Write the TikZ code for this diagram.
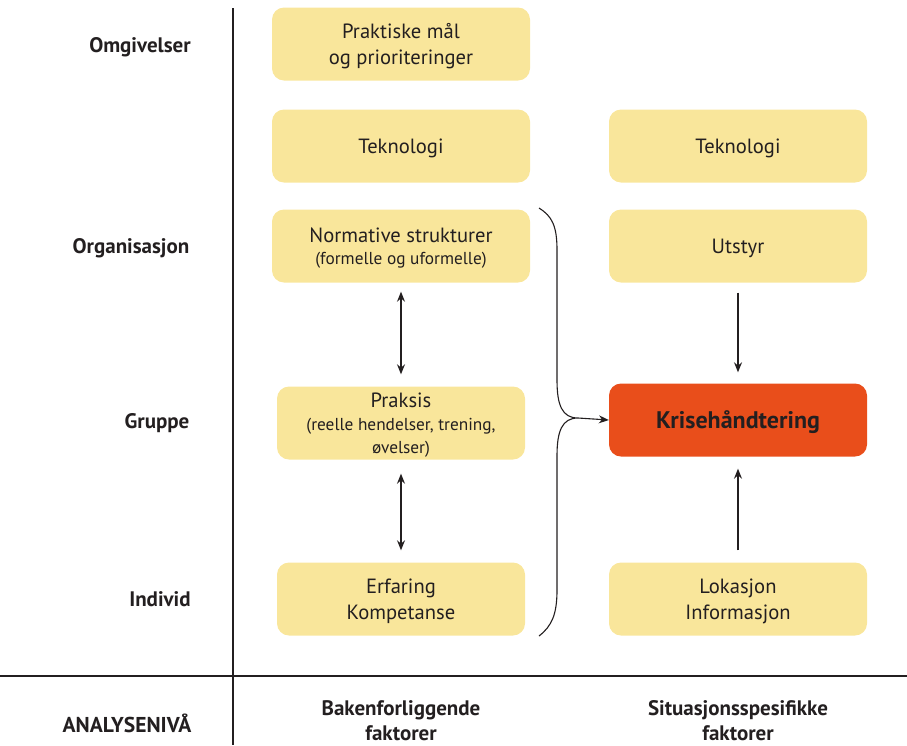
\documentclass[tikz,border=0pt]{standalone}
\usepackage{fontspec}
\setmainfont{PT Sans}
\usetikzlibrary{arrows.meta}
\definecolor{boxyellow}{HTML}{F9E69B}
\definecolor{boxorange}{HTML}{E94E1B}
\definecolor{txt}{HTML}{231F20}
\newcommand{\subtxt}{\fontsize{17.3}{21}\selectfont}
\tikzset{
  factor/.style={rounded corners=12pt, fill=boxyellow, minimum width=258pt, minimum height=73pt, align=center, text=txt, font=\fontsize{20.6}{25.5}\selectfont, inner sep=0pt, text depth=-1pt},
  factorn/.style={factor, minimum width=248pt},
  crisis/.style={factor, fill=boxorange, font=\fontsize{24}{25}\selectfont\bfseries},
  level/.style={font=\fontsize{21}{25}\selectfont\bfseries, text=txt, align=center},
  colhead/.style={font=\fontsize{21}{25}\selectfont\bfseries, text=txt, align=center},
  axis/.style={line width=1.1pt, draw=txt},
  conn/.style={line width=1.1pt, draw=txt, -{Stealth[length=10pt,width=8pt]}},
  dconn/.style={line width=1.1pt, draw=txt, {Stealth[length=10pt,width=8pt]}-{Stealth[length=10pt,width=8pt]}}
}
\begin{document}
\begin{tikzpicture}[x=1pt,y=-1pt]
\useasboundingbox (0,0) rectangle (907,745);
% axes
\coordinate (vtop) at (233,8);
\coordinate (vbot) at (233,745);
\coordinate (hl) at (0,676);
\coordinate (hr) at (907,676);
\draw[axis] (vtop) -- (vbot);
\draw[axis] (hl) -- (hr);
% level labels
\node[level] (lomg) at (140,47) {Omgivelser};
\node[level] (lorg) at (131,248) {Organisasjon};
\node[level] (lgrp) at (157,423) {Gruppe};
\node[level] (lind) at (160,599) {Individ};
\node[level, font=\fontsize{21.5}{25}\selectfont\bfseries] (lana) at (127,723) {ANALYSENIVÅ};
\node[colhead] (cbak) at (401,721) {Bakenforliggende\\faktorer};
\node[colhead] (csit) at (738,721) {Situasjonsspesifikke\\faktorer};
% left column
\node[factor] (prak) at (401,44) {Praktiske mål\\og prioriteringer};
\node[factor] (tekL) at (401,146) {Teknologi};
\node[factor] (norm) at (401,246) {Normative strukturer\\[-3pt]{\subtxt (formelle og uformelle)}};
\node[factorn] (praks) at (401,423) {Praksis\\[-2pt]{\subtxt (reelle hendelser, trening,}\\[-3pt]{\subtxt øvelser)}};
\node[factorn] (erf) at (401,599) {Erfaring\\Kompetanse};
% right column
\node[factor] (tekR) at (738,146) {Teknologi};
\node[factor] (utst) at (738,246) {Utstyr};
\node[crisis] (krise) at (738,420) {Krisehåndtering};
\node[factor] (lok) at (738,599) {Lokasjon\\Informasjon};
% arrows
\draw[dconn] ([yshift=-9pt]norm.south) -- ([yshift=12pt]praks.north);
\draw[dconn] ([yshift=-14pt]praks.south) -- ([yshift=12pt]erf.north);
\draw[conn] ([yshift=-10pt]utst.south) -- ([yshift=11pt]krise.north);
\draw[conn] ([yshift=12pt]lok.north) -- ([yshift=-12pt]krise.south);
% brace
\coordinate (btop) at (539,208);
\coordinate (bbot) at (539,636);
\coordinate (btip) at (578,418);
\draw[line width=1.1pt, draw=txt] (btop) .. controls (552,216) and (557,226) .. (557,250)
  -- (557,380) .. controls (557,405) and (562,418) .. (btip)
  .. controls (562,418) and (557,431) .. (557,456)
  -- (557,590) .. controls (557,614) and (552,626) .. (bbot);
\draw[conn] (btip) -- (krise.west);
\end{tikzpicture}
\end{document}
